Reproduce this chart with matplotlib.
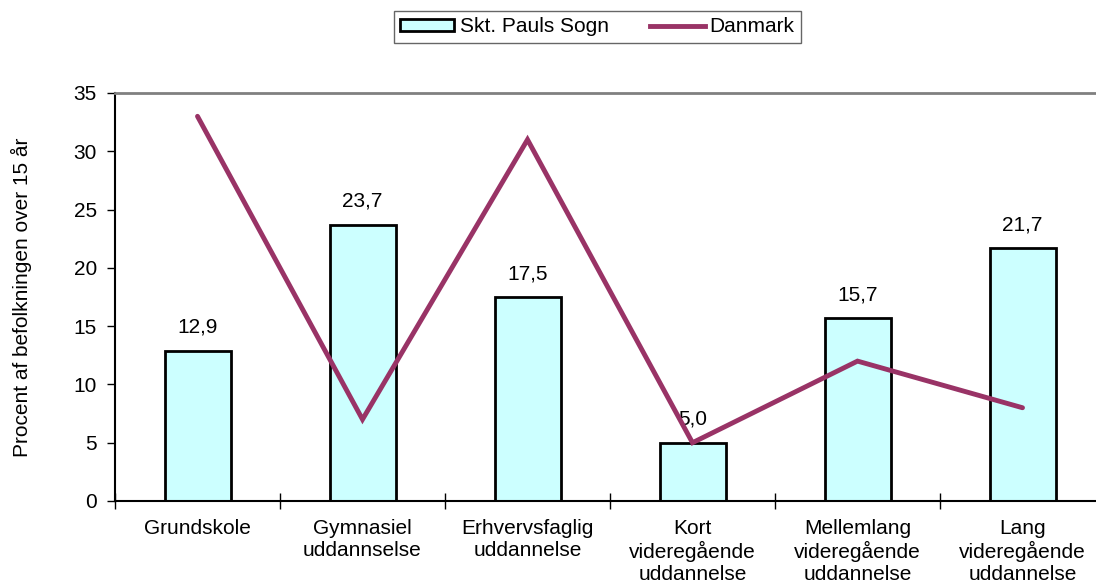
import matplotlib
matplotlib.use("Agg")
import matplotlib.pyplot as plt
from matplotlib.patches import Rectangle
from matplotlib.lines import Line2D

categories = ["Grundskole", "Gymnasiel\nuddannselse", "Erhvervsfaglig\nuddannelse",
              "Kort\nvideregående\nuddannelse", "Mellemlang\nvideregående\nuddannelse",
              "Lang\nvideregående\nuddannelse"]
sogn = [12.9, 23.7, 17.5, 5.0, 15.7, 21.7]
danmark = [33, 7, 31, 5, 12, 8]
yticks = [0, 5, 10, 15, 20, 25, 30, 35]

plt.rcParams['font.family'] = ['Liberation Sans', 'DejaVu Sans']
FS = 15

fig = plt.figure(figsize=(10.96, 5.83), dpi=100)
W, H = 1096, 583
ax = fig.add_axes([115 / W, (H - 501) / H, (1105 - 115) / W, (501 - 93) / H])

x = list(range(len(categories)))
bars = ax.bar(x, sogn, width=0.4, color="#CCFFFF", edgecolor="black", linewidth=2, zorder=2)
for xi, v in zip(x, sogn):
    ax.annotate(f"{v:.1f}".replace(".", ","), (xi, v), xytext=(0, 10), textcoords="offset points",
                ha="center", va="bottom", fontsize=FS, zorder=3)
ax.plot(x, danmark, color="#993366", linewidth=3.5, solid_capstyle="round",
        solid_joinstyle="miter", zorder=4)

ax.set_xlim(-0.5, len(categories) - 0.5)
ax.set_ylim(0, 35)
ax.set_yticks(yticks)
ax.set_yticklabels([str(t) for t in yticks], fontsize=FS)
ax.set_xticks(x)
ax.set_xticklabels(categories, fontsize=FS, linespacing=1.18)
ax.tick_params(axis="x", length=0, pad=13)
ax.set_xticks([i - 0.5 for i in range(len(categories) + 1)], minor=True)
ax.tick_params(axis="x", which="minor", direction="inout", length=12, width=1)
ax.tick_params(axis="y", direction="out", length=6, width=1, pad=7)

ax.spines["left"].set_linewidth(1.5)
ax.spines["bottom"].set_linewidth(1.5)
ax.spines["top"].set_color("#808080")
ax.spines["top"].set_linewidth(2)
ax.spines["right"].set_visible(False)

ax.set_ylabel("Procent af befolkningen over 15 år", fontsize=FS)
ax.yaxis.set_label_coords(-83 / 990, 0.5)

handles = [Rectangle((0, 0), 1, 1, facecolor="#CCFFFF", edgecolor="black", linewidth=2),
           Line2D([0], [0], color="#993366", linewidth=3.5)]
leg = fig.legend(handles, ["Skt. Pauls Sogn", "Danmark"], loc="center",
                 bbox_to_anchor=(597.5 / W, 1 - 27 / H), ncol=2, fontsize=FS,
                 frameon=True, fancybox=False, edgecolor="#404040", handlelength=2.6,
                 handleheight=0.45, handletextpad=0.25, columnspacing=2.0,
                 borderpad=0.3)
leg.get_frame().set_linewidth(1)

fig.savefig("out.png", dpi=100)
